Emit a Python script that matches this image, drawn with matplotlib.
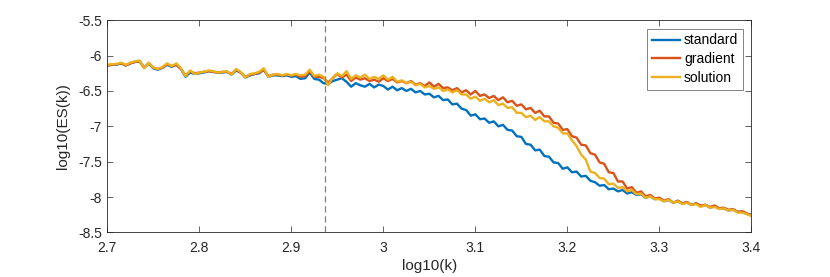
import numpy as np
import matplotlib
matplotlib.use('Agg')
import matplotlib.pyplot as plt

plt.rcParams['font.family'] = ['Liberation Sans', 'DejaVu Sans']

# log10(k) sample positions, step 0.005 from 2.7 to 3.4
logk = np.round(np.arange(2.7, 3.4001, 0.005), 3)

standard = [
    -6.14, -6.13, -6.13, -6.11, -6.14, -6.11, -6.09, -6.08, -6.17, -6.11,
    -6.18, -6.20, -6.17, -6.13, -6.16, -6.13, -6.19, -6.30, -6.24, -6.26,
    -6.25, -6.24, -6.22, -6.23, -6.24, -6.24, -6.23, -6.27, -6.21, -6.24,
    -6.31, -6.28, -6.26, -6.25, -6.20, -6.30, -6.28, -6.28, -6.29, -6.28,
    -6.30, -6.29, -6.33, -6.32, -6.24, -6.33, -6.34, -6.39, -6.40, -6.36,
    -6.34, -6.32, -6.37, -6.44, -6.39, -6.42, -6.44, -6.40, -6.45, -6.41,
    -6.43, -6.48, -6.44, -6.49, -6.46, -6.50, -6.47, -6.52, -6.50, -6.55,
    -6.54, -6.59, -6.57, -6.63, -6.62, -6.69, -6.68, -6.75, -6.77, -6.85,
    -6.83, -6.90, -6.89, -6.95, -6.93, -7.00, -6.98, -7.05, -7.06, -7.14,
    -7.15, -7.25, -7.26, -7.34, -7.33, -7.42, -7.43, -7.51, -7.52, -7.60,
    -7.58, -7.65, -7.64, -7.71, -7.70, -7.77, -7.79, -7.84, -7.83, -7.89,
    -7.88, -7.92, -7.90, -7.95, -7.93, -7.97, -7.96, -8.01, -7.99, -8.03,
    -8.02, -8.06, -8.04, -8.08, -8.06, -8.09, -8.08, -8.11, -8.09, -8.13,
    -8.11, -8.15, -8.13, -8.16, -8.16, -8.19, -8.18, -8.21, -8.21, -8.24,
    -8.25,
]

gradient = [
    -6.14, -6.13, -6.12, -6.11, -6.14, -6.11, -6.09, -6.08, -6.17, -6.11,
    -6.17, -6.19, -6.17, -6.12, -6.15, -6.13, -6.19, -6.28, -6.22, -6.25,
    -6.24, -6.23, -6.22, -6.23, -6.24, -6.23, -6.23, -6.26, -6.20, -6.24,
    -6.30, -6.27, -6.26, -6.24, -6.20, -6.29, -6.27, -6.27, -6.28, -6.27,
    -6.28, -6.27, -6.30, -6.29, -6.22, -6.30, -6.30, -6.32, -6.38, -6.32,
    -6.26, -6.31, -6.27, -6.36, -6.31, -6.34, -6.32, -6.36, -6.34, -6.37,
    -6.32, -6.36, -6.33, -6.38, -6.36, -6.39, -6.36, -6.41, -6.39, -6.43,
    -6.38, -6.44, -6.40, -6.46, -6.45, -6.49, -6.46, -6.52, -6.49, -6.55,
    -6.50, -6.57, -6.55, -6.60, -6.57, -6.63, -6.59, -6.66, -6.64, -6.71,
    -6.69, -6.76, -6.74, -6.81, -6.78, -6.86, -6.86, -6.95, -6.96, -7.05,
    -7.04, -7.14, -7.16, -7.26, -7.27, -7.38, -7.40, -7.51, -7.53, -7.65,
    -7.66, -7.78, -7.78, -7.88, -7.86, -7.94, -7.92, -7.99, -7.97, -8.02,
    -8.01, -8.05, -8.03, -8.08, -8.05, -8.09, -8.07, -8.11, -8.09, -8.12,
    -8.11, -8.14, -8.12, -8.16, -8.15, -8.18, -8.17, -8.21, -8.20, -8.23,
    -8.26,
]

solution = [
    -6.13, -6.12, -6.12, -6.10, -6.13, -6.10, -6.08, -6.07, -6.18, -6.10,
    -6.17, -6.19, -6.16, -6.11, -6.15, -6.11, -6.18, -6.29, -6.21, -6.26,
    -6.24, -6.23, -6.21, -6.22, -6.24, -6.23, -6.22, -6.27, -6.19, -6.23,
    -6.31, -6.26, -6.25, -6.23, -6.18, -6.30, -6.27, -6.26, -6.28, -6.26,
    -6.28, -6.26, -6.28, -6.27, -6.20, -6.29, -6.27, -6.30, -6.42, -6.31,
    -6.25, -6.29, -6.22, -6.33, -6.28, -6.31, -6.27, -6.33, -6.30, -6.33,
    -6.28, -6.34, -6.30, -6.37, -6.35, -6.39, -6.37, -6.42, -6.40, -6.45,
    -6.43, -6.47, -6.45, -6.50, -6.48, -6.52, -6.49, -6.55, -6.55, -6.61,
    -6.58, -6.64, -6.61, -6.66, -6.63, -6.70, -6.68, -6.74, -6.73, -6.81,
    -6.81, -6.87, -6.85, -6.91, -6.87, -6.93, -6.93, -7.00, -7.02, -7.10,
    -7.10, -7.20, -7.28, -7.40, -7.47, -7.64, -7.66, -7.73, -7.74, -7.82,
    -7.81, -7.87, -7.86, -7.92, -7.90, -7.96, -7.95, -8.01, -7.99, -8.03,
    -8.03, -8.06, -8.04, -8.08, -8.06, -8.10, -8.08, -8.11, -8.10, -8.14,
    -8.11, -8.15, -8.14, -8.17, -8.16, -8.19, -8.18, -8.22, -8.22, -8.24,
    -8.27,
]

k_cut = 2.937  # dashed marker position

series = [('standard', standard, '#0072BD'),
          ('gradient', gradient, '#D95319'),
          ('solution', solution, '#EDB120')]

fig = plt.figure(figsize=(8.3, 2.77), dpi=100)
ax = fig.add_axes([0.1293, 0.161, 0.776, 0.766])

for name, vals, col in series:
    ax.plot(logk, vals, color=col, lw=1.7, label=name)

ax.axvline(k_cut, color='#808080', ls=(0, (5, 3)), lw=0.9)

ax.set_xlim(2.7, 3.4)
ax.set_ylim(-8.5, -5.5)
ax.set_xticks(np.arange(2.7, 3.401, 0.1))
ax.set_xticklabels(['2.7', '2.8', '2.9', '3', '3.1', '3.2', '3.3', '3.4'])
ax.set_yticks(np.arange(-8.5, -5.49, 0.5))
ax.set_yticklabels(['-8.5', '-8', '-7.5', '-7', '-6.5', '-6', '-5.5'])

ax.tick_params(direction='in', top=True, right=True, length=4, width=0.5,
               colors='#262626', labelsize=10)
ax.tick_params(axis='x', pad=6)
ax.tick_params(axis='y', pad=4)
for s in ax.spines.values():
    s.set_linewidth(0.6)
    s.set_color('#262626')

ax.set_xlabel('log10(k)', fontsize=11, color='#262626', labelpad=3)
ax.set_ylabel('log10(ES(k))', fontsize=11, color='#262626', labelpad=6)

leg = ax.legend(loc='upper right', fontsize=10, frameon=True, fancybox=False,
                edgecolor='#262626', handlelength=2.0, handletextpad=0.3,
                borderpad=0.35, labelspacing=0.35, borderaxespad=0.6)
leg.get_frame().set_linewidth(0.5)

fig.savefig('out.png', dpi=100)
